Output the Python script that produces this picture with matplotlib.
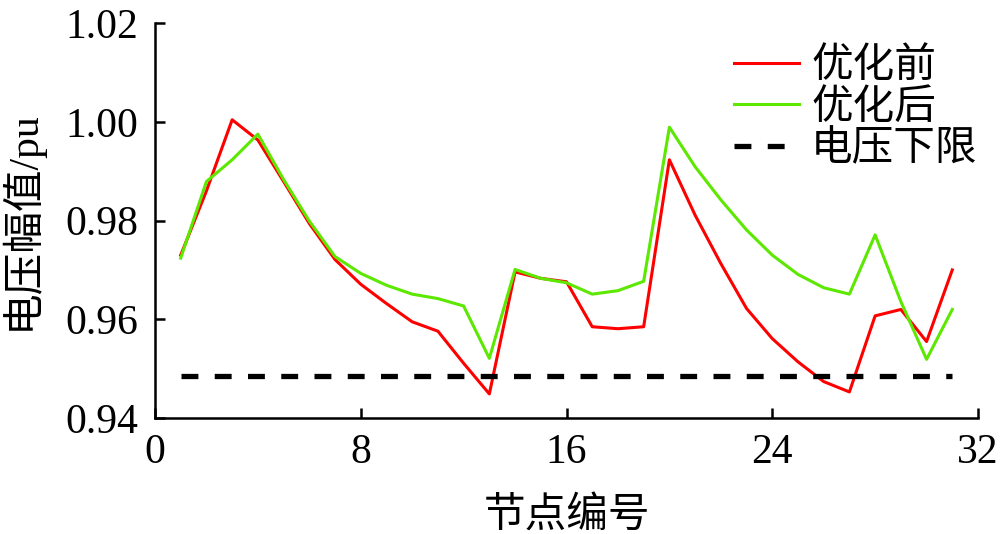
import numpy as np
import matplotlib.pyplot as plt

plt.rcParams['font.family'] = ['Liberation Serif', 'Noto Sans CJK SC']
plt.rcParams['font.size'] = 30

# node voltages (pu)
nodes = list(range(1, 32))
v_before = [0.9730, 0.9860, 1.0004, 0.9963, 0.9879, 0.9794, 0.9721, 0.9671,
            0.9632, 0.9595, 0.9576, 0.9511, 0.9449, 0.9696, 0.9683, 0.9676,
            0.9585, 0.9581, 0.9585, 0.9923, 0.9811, 0.9713, 0.9622, 0.9561,
            0.9514, 0.9474, 0.9453, 0.9607, 0.9620, 0.9555, 0.9700]
v_after = [0.9724, 0.9879, 0.9923, 0.9975, 0.9883, 0.9799, 0.9727, 0.9693,
           0.9669, 0.9651, 0.9642, 0.9627, 0.9521, 0.9701, 0.9683, 0.9674,
           0.9651, 0.9658, 0.9677, 0.9989, 0.9909, 0.9842, 0.9781, 0.9730,
           0.9691, 0.9664, 0.9651, 0.9771, 0.9636, 0.9519, 0.9620]
v_limit = 0.9486

labels = ['优化前', '优化后', '电压下限']

fig = plt.figure(figsize=(10, 5.34), dpi=100)
ax = fig.add_axes([0.155, 0.217, 0.823, 0.740])

ax.plot(nodes, v_before, color='#ff0000', lw=2.2, label=labels[0])
ax.plot(nodes, v_after, color='#5ce800', lw=2.2, label=labels[1])
ax.plot([nodes[0], nodes[-1]], [v_limit, v_limit], color='black', lw=3.8,
        dashes=(3.2, 3.1), label=labels[2])

ax.set_xlim(0, 32)
ax.set_ylim(0.94, 1.02)
ax.set_xticks([0, 8, 16, 24, 32])
ax.set_yticks([0.94, 0.96, 0.98, 1.00, 1.02])
ax.set_yticklabels(['0.94', '0.96', '0.98', '1.00', '1.02'])

for s in ['top', 'right']:
    ax.spines[s].set_visible(False)
for s in ['left', 'bottom']:
    ax.spines[s].set_linewidth(1.8)
ax.tick_params(direction='in', length=7, width=1.8)
ax.tick_params(axis='y', pad=12)
ax.tick_params(axis='x', pad=11)

ax.set_xlabel('节点编号', labelpad=18)
ax.set_ylabel('电压幅值/pu', labelpad=16)

ax.legend(loc='upper right', bbox_to_anchor=(1.03, 1.0), frameon=False,
          handlelength=1.55, handletextpad=0.3, labelspacing=0.07,
          borderaxespad=0.2)

fig.savefig('out.png', dpi=100)
